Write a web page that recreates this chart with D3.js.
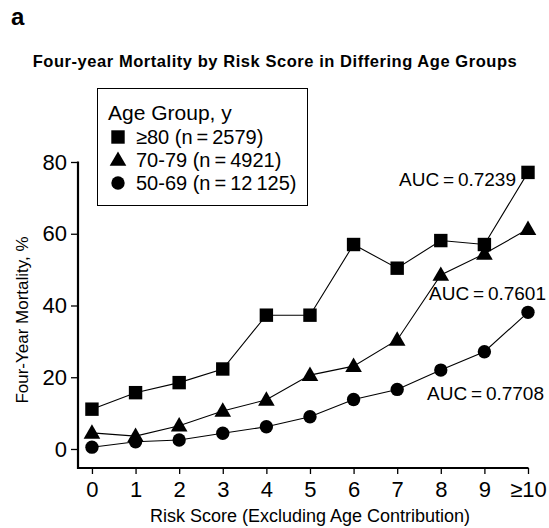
<!DOCTYPE html>
<html><head><meta charset="utf-8">
<script src="https://cdn.jsdelivr.net/npm/d3@7"></script>
<style>
body{margin:0;background:#fff;}
svg text{font-family:"Liberation Sans",Arial,Helvetica,sans-serif;fill:#000;}
</style></head>
<body><svg id="c" width="549" height="528"></svg>
<script>
const riskScores = [0,1,2,3,4,5,6,7,8,9,10];
const tickLabels = ["0","1","2","3","4","5","6","7","8","9","\u226510"];
const yTicks = [0,20,40,60,80];
const age80 = [11.1,15.7,18.5,22.3,37.3,37.3,57.0,50.4,58.1,57.0,77.1];
const age7079 = [4.5,3.6,6.5,10.6,13.7,20.6,23.1,30.4,48.5,54.4,61.3];
const age5069 = [0.5,2.0,2.5,4.4,6.2,9.0,13.8,16.6,22.0,27.1,38.1];
const seriesNames = ["\u226580 (n\u2009=\u20092579)","70-79 (n\u2009=\u20094921)","50-69 (n\u2009=\u200912\u2009125)"];
const aucLabels = ["AUC\u2009=\u20090.7239","AUC\u2009=\u20090.7601","AUC\u2009=\u20090.7708"];

const svg = d3.select("#c");
const x = d3.scaleLinear().domain([-0.32,10]).range([78,528]);
const y = d3.scaleLinear().domain([-5.3,80]).range([468,162]);

svg.append("text").attr("x",11).attr("y",25).attr("font-size",24).attr("font-weight","bold").text("a");
svg.append("text").attr("x",275).attr("y",67).attr("text-anchor","middle").attr("font-size",16.5).attr("font-weight","bold")
  .attr("letter-spacing",0.55)
  .text("Four-year Mortality by Risk Score in Differing Age Groups");

// axes
const xAxis = d3.axisBottom(x).tickValues(riskScores).tickFormat((d,i)=>tickLabels[i]).tickSize(6).tickPadding(7.5).tickSizeOuter(0);
const gx = svg.append("g").attr("transform","translate(0,468)").call(xAxis);
gx.select(".domain").attr("stroke-width",2.2).attr("d","M77,0H528.5");
gx.selectAll(".tick line").attr("stroke-width",1.3);
gx.selectAll(".tick text").attr("font-size",22).attr("font-family","Liberation Sans, Arial, sans-serif");

const yAxis = d3.axisLeft(y).tickValues(yTicks).tickSize(7).tickPadding(4).tickSizeOuter(0);
const gy = svg.append("g").attr("transform","translate(78,0)").call(yAxis);
gy.select(".domain").attr("stroke-width",2.2).attr("d","M0,161.5V469");
gy.selectAll(".tick line").attr("stroke-width",1.3);
gy.selectAll(".tick text").attr("font-size",22).attr("font-family","Liberation Sans, Arial, sans-serif");

svg.append("text").attr("x",310).attr("y",522).attr("text-anchor","middle").attr("font-size",18)
  .text("Risk Score (Excluding Age Contribution)");
svg.append("text").attr("transform","translate(28,320) rotate(-90)").attr("text-anchor","middle").attr("font-size",17)
  .text("Four-Year Mortality, %");

const line = d3.line().x((d,i)=>x(riskScores[i])).y(d=>y(d));
const series = [age80, age7079, age5069];
series.forEach(s=>{
  svg.append("path").attr("d",line(s)).attr("fill","none").attr("stroke","#000").attr("stroke-width",1.1);
});
const sym = [d3.symbolSquare, d3.symbolTriangle, d3.symbolCircle];
const sizes = [180, 120, 140];
series.forEach((s,k)=>{
  svg.append("g").selectAll("path").data(s).join("path")
    .attr("transform",(d,i)=>`translate(${x(riskScores[i])},${y(d)+(k===1?1:0)})`)
    .attr("d",d3.symbol(sym[k],sizes[k])).attr("fill","#000");
});

// AUC labels
svg.append("text").attr("x",516).attr("y",186).attr("text-anchor","end").attr("font-size",19).text(aucLabels[0]);
svg.append("text").attr("x",546).attr("y",300).attr("text-anchor","end").attr("font-size",19).text(aucLabels[1]);
svg.append("text").attr("x",544).attr("y",400).attr("text-anchor","end").attr("font-size",19).text(aucLabels[2]);

// legend
svg.append("rect").attr("x",97.5).attr("y",88.5).attr("width",210).attr("height",117).attr("fill","#fff").attr("stroke","#000").attr("stroke-width",1);
svg.append("text").attr("x",108).attr("y",120).attr("font-size",21).text("Age Group, y");
const rowsY = [137,160,183];
rowsY.forEach((ry,k)=>{
  svg.append("path").attr("transform",`translate(118,${ry+(k===1?1:0)})`).attr("d",d3.symbol(sym[k],sizes[k])).attr("fill","#000");
  svg.append("text").attr("x",136).attr("y",ry+7).attr("font-size",20).text(seriesNames[k]);
});
</script></body></html>
